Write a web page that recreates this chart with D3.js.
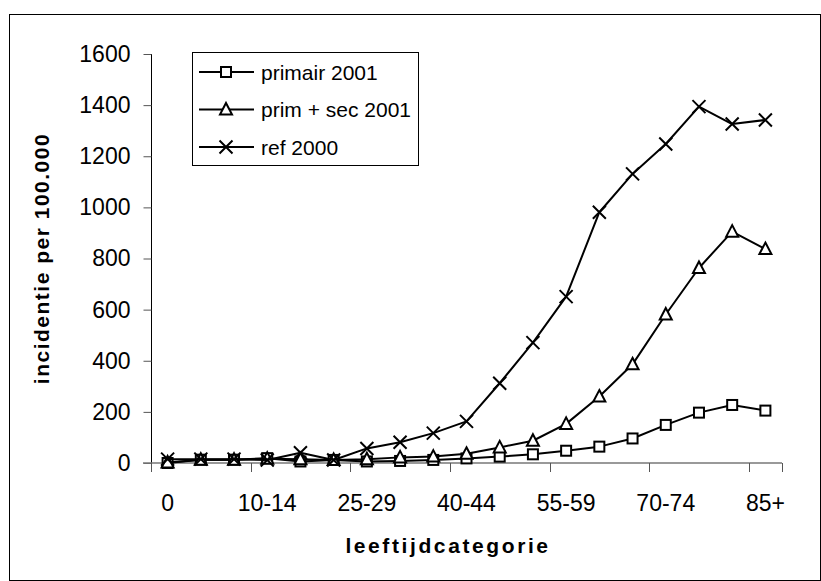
<!DOCTYPE html>
<html>
<head>
<meta charset="utf-8">
<script src="https://cdn.jsdelivr.net/npm/d3@7"></script>
<style>
  html, body { margin: 0; padding: 0; background: #fff; }
  svg { display: block; font-family: Arial, "Liberation Sans", sans-serif; }
</style>
</head>
<body>
<svg id="chart" width="821" height="581"></svg>
<script>
// Age categories
const categories = ["0", "1-4", "5-9", "10-14", "15-19", "20-24", "25-29", "30-34", "35-39",
  "40-44", "45-49", "50-54", "55-59", "60-64", "65-69", "70-74", "75-79", "80-84", "85+"];

// Incidence per 100.000 by age category
const primair2001 = [0, 13, 13, 19, 6, 12, 6, 8, 12, 18, 25, 34, 48, 64, 96, 149, 197, 227, 205];
const primSec2001 = [2, 13, 13, 17, 15, 12, 15, 22, 25, 36, 61, 87, 153, 260, 386, 581, 763, 905, 837];
const ref2000 = [15, 15, 15, 12, 40, 12, 57, 81, 117, 163, 312, 471, 651, 981, 1131, 1248, 1394, 1326, 1342];

const yTicks = [0, 200, 400, 600, 800, 1000, 1200, 1400, 1600];
const xLabelEvery = 3;

const seriesNames = ["primair 2001", "prim + sec 2001", "ref 2000"];
const seriesMarkers = ["square", "triangle", "cross"];

const svg = d3.select("#chart");

// outer frame
svg.append("rect")
  .attr("x", 9.5).attr("y", 14.5).attr("width", 811).attr("height", 566)
  .attr("fill", "#fff").attr("stroke", "#000").attr("stroke-width", 1);

const plot = { left: 151, right: 782, top: 54, bottom: 463 };

const x = d3.scaleBand().domain(categories).range([plot.left, plot.right]).padding(0);
const y = d3.scaleLinear().domain([0, 1600]).range([plot.bottom, plot.top]);
const cx = c => x(c) + x.bandwidth() / 2;

// y axis
const yAxis = svg.append("g")
  .attr("transform", `translate(${plot.left + 0.5},0)`)
  .call(d3.axisLeft(y).tickValues(yTicks).tickSize(8).tickPadding(13).tickFormat(d3.format("d")));
yAxis.select(".domain").attr("stroke", "#000").attr("d", `M0,${plot.top}V${plot.bottom}`);
yAxis.selectAll(".tick line").attr("stroke", "#555");
yAxis.selectAll(".tick text").attr("font-size", 23).attr("fill", "#000")
  .attr("font-family", "Arial, 'Liberation Sans', sans-serif");

// x axis: ticks between categories, every third boundary
const boundaries = categories.filter((c, i) => i % xLabelEvery === 0).map(c => x(c))
  .concat([x(categories[categories.length - 1]) + x.bandwidth()]);
const xg = svg.append("g");
xg.append("line")
  .attr("x1", plot.left - 8).attr("x2", plot.right)
  .attr("y1", plot.bottom).attr("y2", plot.bottom)
  .attr("stroke", "#777").attr("stroke-width", 1.6);
xg.selectAll("line.tk").data(boundaries).join("line")
  .attr("class", "tk")
  .attr("x1", d => Math.round(d) + 0.5).attr("x2", d => Math.round(d) + 0.5)
  .attr("y1", plot.bottom).attr("y2", plot.bottom + 9)
  .attr("stroke", "#555");
xg.selectAll("text").data(categories.filter((c, i) => i % xLabelEvery === 0)).join("text")
  .attr("x", d => cx(d)).attr("y", 511)
  .attr("text-anchor", "middle").attr("font-size", 23).attr("fill", "#000")
  .text(d => d);

// axis titles
svg.append("text")
  .attr("x", 448).attr("y", 553)
  .attr("text-anchor", "middle").attr("font-size", 21).attr("font-weight", "bold")
  .attr("letter-spacing", 2.6)
  .text("leeftijdcategorie");
svg.append("text")
  .attr("transform", `translate(49,${(plot.top + plot.bottom) / 2}) rotate(-90)`)
  .attr("text-anchor", "middle").attr("font-size", 21).attr("font-weight", "bold")
  .attr("letter-spacing", 1.5)
  .text("incidentie per 100.000");

// marker drawing
function drawMarker(g, type, px, py) {
  if (type === "square") {
    g.append("rect").attr("x", px - 5).attr("y", py - 5).attr("width", 10).attr("height", 10)
      .attr("fill", "#fff").attr("stroke", "#000").attr("stroke-width", 2);
  } else if (type === "triangle") {
    g.append("path")
      .attr("d", `M${px},${py - 6.5}L${px + 6},${py + 5}L${px - 6},${py + 5}Z`)
      .attr("fill", "#fff").attr("stroke", "#000").attr("stroke-width", 2);
  } else {
    g.append("path")
      .attr("d", `M${px - 6.5},${py - 6.5}L${px + 6.5},${py + 6.5}M${px - 6.5},${py + 6.5}L${px + 6.5},${py - 6.5}`)
      .attr("fill", "none").attr("stroke", "#000").attr("stroke-width", 2);
  }
}

const seriesData = [primair2001, primSec2001, ref2000];
const line = d3.line().x((d, i) => cx(categories[i])).y(d => y(d));

// draw lines, then markers, in series order
seriesData.forEach((vals, s) => {
  const g = svg.append("g");
  g.append("path").datum(vals).attr("d", line)
    .attr("fill", "none").attr("stroke", "#000").attr("stroke-width", 2)
    .attr("stroke-linejoin", "round");
  vals.forEach((v, i) => drawMarker(g, seriesMarkers[s], cx(categories[i]), y(v)));
});

// legend
const lg = svg.append("g");
lg.append("rect").attr("x", 192.5).attr("y", 52.5).attr("width", 226).attr("height", 113)
  .attr("fill", "#fff").attr("stroke", "#000").attr("stroke-width", 1);
const legendY = [72, 109.5, 147];
seriesNames.forEach((name, s) => {
  const ly = legendY[s];
  lg.append("line").attr("x1", 199).attr("x2", 254).attr("y1", ly).attr("y2", ly)
    .attr("stroke", "#000").attr("stroke-width", 2);
  drawMarker(lg, seriesMarkers[s], 226, ly);
  lg.append("text").attr("x", 261).attr("y", ly + 7.5)
    .attr("font-size", 21).attr("fill", "#000").text(name);
});
</script>
</body>
</html>
